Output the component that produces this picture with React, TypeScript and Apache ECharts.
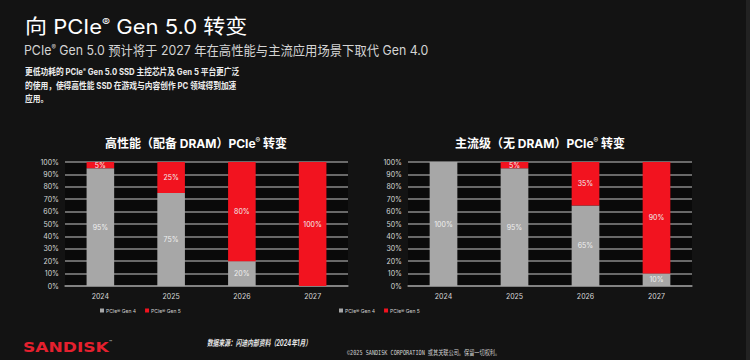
import React, { useEffect, useRef } from "react";
import * as echarts from "echarts";

const years = ["2024", "2025", "2026", "2027"];
const seriesNames = ["PCIe® Gen 4", "PCIe® Gen 5"];
const highGen4 = [95, 75, 20, 0];
const highGen5 = [5, 25, 80, 100];
const mainGen4 = [100, 95, 65, 10];
const mainGen5 = [0, 5, 35, 90];
const yTicks = [0, 10, 20, 30, 40, 50, 60, 70, 80, 90, 100];

const headline = "向 PCIe® Gen 5.0 转变";
const subline = "PCIe® Gen 5.0 预计将于 2027 年在高性能与主流应用场景下取代 Gen 4.0";
const bodyLines = [
  "更低功耗的 PCIe® Gen 5.0 SSD 主控芯片及 Gen 5 平台更广泛",
  "的使用，使得高性能 SSD 在游戏与内容创作 PC 领域得到加速",
  "应用。",
];
const chartTitles = ["高性能（配备 DRAM）PCIe® 转变", "主流级（无 DRAM）PCIe® 转变"];
const sourceText = "数据来源：闪迪内部资料（2024年1月）";
const copyrightText = "©2025 SANDISK CORPORATION 或其关联公司。保留一切权利。";

const GRAY = "#a7a7a7";
const RED = "#f2131f";
const FONT = "Inter, 'Noto Sans CJK SC', sans-serif";

const sup = (t: string) => t.replace(/®/g, "{r|®}");

function richText(
  x: number,
  y: number,
  text: string,
  size: number,
  fill: string,
  weight: string,
  scaleX: number,
  align: string = "left"
) {
  return {
    type: "text",
    x,
    y,
    scaleX,
    style: {
      text: sup(text),
      fill,
      font: `${weight} ${size}px ${FONT}`,
      align,
      verticalAlign: "middle",
      rich: {
        r: {
          fontSize: Math.round(size * 0.55),
          fontFamily: FONT,
          fontWeight: weight,
          fill,
          verticalAlign: "top",
        },
      },
    },
  };
}

export default function App() {
  const ref = useRef<HTMLDivElement>(null);
  useEffect(() => {
    if (!ref.current) return;
    const chart = echarts.init(ref.current, undefined, { renderer: "svg" });
    const grids = [
      { left: 65, right: 402, top: 162, bottom: 74 },
      { left: 408, right: 58, top: 162, bottom: 74 },
    ];
    const xAxes = grids.map((_, i) => ({
      type: "category",
      gridIndex: i,
      data: years,
      axisLine: { show: true, lineStyle: { color: "#8a8a8a", width: 1.5 } },
      axisTick: { show: false },
      axisLabel: { color: "#d8d8d8", fontSize: 7, margin: 7, fontFamily: FONT },
    }));
    const yAxes = grids.map((_, i) => ({
      type: "value",
      gridIndex: i,
      min: yTicks[0],
      max: yTicks[yTicks.length - 1],
      interval: 10,
      axisLine: { show: false },
      axisTick: { show: false },
      axisLabel: { color: "#d8d8d8", fontSize: 7, margin: 6, formatter: "{value}%", fontFamily: FONT },
      splitLine: { show: true, lineStyle: { color: "#8a8a8a", width: 1.5 } },
    }));
    const label = {
      show: true,
      position: "inside",
      color: "#f0f0f0",
      fontSize: 7,
      fontFamily: FONT,
      formatter: (p: any) => (p.value ? p.value + "%" : ""),
    };
    const mk = (name: string, data: number[], idx: number, color: string, stack: string) => ({
      type: "bar",
      name,
      data,
      xAxisIndex: idx,
      yAxisIndex: idx,
      stack,
      barWidth: "39%",
      itemStyle: { color },
      label,
    });
    const series = [
      mk(seriesNames[0], highGen4, 0, GRAY, "a"),
      mk(seriesNames[1], highGen5, 0, RED, "a"),
      mk(seriesNames[0], mainGen4, 1, GRAY, "b"),
      mk(seriesNames[1], mainGen5, 1, RED, "b"),
    ];
    const legendBase = {
      top: 308,
      padding: 0,
      itemWidth: 4,
      itemHeight: 4,
      itemGap: 9,
      icon: "rect",
      data: seriesNames,
      textStyle: { color: "#d0d0d0", fontSize: 5, fontFamily: FONT, padding: [0, 0, 0, -3] },
      selectedMode: false,
    };
    const graphic: any[] = [
      { type: "rect", shape: { x: 746, y: 0, width: 4, height: 360 }, style: { fill: "#222" } },
      richText(25, 27, headline, 20, "#ffffff", "normal", 1.1),
      richText(24, 50, subline, 13, "#d4d4d4", "normal", 0.95),
      ...bodyLines.map((t, i) => richText(25, 72 + i * 13.5, t, 9, "#ececec", "bold", 0.86)),
      ...chartTitles.map((t, i) => richText(i === 0 ? 196 : 540, 143, t, 12, "#ffffff", "bold", 1, "center")),
      {
        type: "text",
        x: 207,
        y: 343,
        scaleX: 0.68,
        style: {
          text: sourceText,
          fill: "#e8e8e8",
          font: `italic bold 8.5px ${FONT}`,
          verticalAlign: "middle",
        },
      },
      {
        type: "text",
        x: 347,
        y: 352,
        scaleX: 0.74,
        style: {
          text: copyrightText,
          fill: "#cfcfcf",
          font: `7px 'DejaVu Sans Mono', ${FONT}`,
          verticalAlign: "middle",
        },
      },
      {
        type: "text",
        x: 23,
        y: 348,
        scaleX: 1.22,
        style: {
          text: "SANDISK",
          fill: "#e5202e",
          font: `900 14px 'DejaVu Sans', sans-serif`,
          verticalAlign: "middle",
        },
      },
      {
        type: "text",
        x: 109,
        y: 342,
        style: { text: "™", fill: "#cccccc", font: `5px ${FONT}`, verticalAlign: "middle" },
      },
    ];
    chart.setOption({
      animation: false,
      backgroundColor: "#131313",
      grid: grids.map((g) => ({ ...g, show: true, backgroundColor: "#0a0a0a", borderWidth: 0 })),
      xAxis: xAxes,
      yAxis: yAxes,
      legend: [
        { ...legendBase, left: 100 },
        { ...legendBase, left: 339 },
      ],
      series,
      graphic,
    } as any);
    return () => chart.dispose();
  }, []);
  return (
    <div
      ref={ref}
      style={{ position: "fixed", left: 0, top: 0, width: 750, height: 360 }}
    />
  );
}
